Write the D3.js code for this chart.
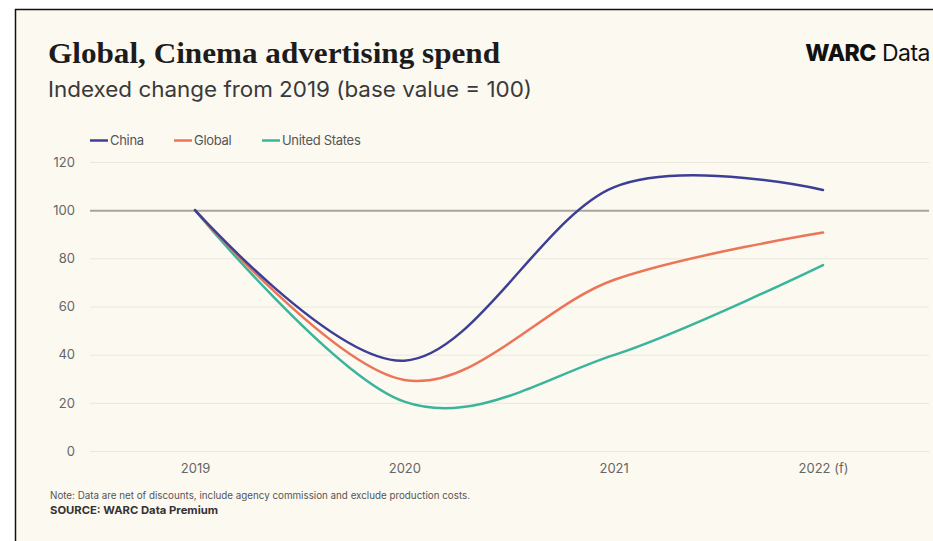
<!DOCTYPE html>
<html>
<head>
<meta charset="utf-8">
<script src="https://cdn.jsdelivr.net/npm/d3@7/dist/d3.min.js"></script>
<style>
  html, body { margin: 0; padding: 0; background: #ffffff; }
  svg { display: block; }
</style>
</head>
<body>
<svg id="chart" width="933" height="541"></svg>
<script>
// Index values, 2019 = 100
const years = ["2019", "2020", "2021", "2022 (f)"];
const china = [100, 37.5, 109.5, 108.4];
const global = [100, 29.5, 71, 90.7];
const unitedStates = [100, 20.5, 39.8, 77.2];
const yTicks = [0, 20, 40, 60, 80, 100, 120];

const seriesNames = ["China", "Global", "United States"];
const seriesColors = ["#3d3f96", "#ec7558", "#3ab59c"];
const seriesValues = [china, global, unitedStates];

const svg = d3.select("#chart");
const W = 933, H = 541;
const sans = "Inter, 'Noto Sans', sans-serif";

// page frame
svg.append("rect").attr("x", 15).attr("y", 9).attr("width", W - 15).attr("height", H - 9)
  .attr("fill", "#fcf9f1");
svg.append("line").attr("x1", 15).attr("x2", W).attr("y1", 9.5).attr("y2", 9.5)
  .attr("stroke", "#111").attr("stroke-width", 1.5);
svg.append("line").attr("x1", 15.5).attr("x2", 15.5).attr("y1", 9).attr("y2", H)
  .attr("stroke", "#111").attr("stroke-width", 1.5);

// headings
svg.append("text").attr("x", 48).attr("y", 63)
  .attr("font-family", "'Liberation Serif', 'Times New Roman', serif")
  .attr("font-weight", 700).attr("font-size", 30).attr("fill", "#1c1c1c")
  .attr("textLength", 452).attr("lengthAdjust", "spacingAndGlyphs")
  .text("Global, Cinema advertising spend");
svg.append("text").attr("x", 48).attr("y", 97)
  .attr("font-family", sans)
  .attr("font-weight", 400).attr("font-size", 21.5).attr("fill", "#3a3a3a")
  .attr("textLength", 484).attr("lengthAdjust", "spacingAndGlyphs")
  .text("Indexed change from 2019 (base value = 100)");

const brand = svg.append("text").attr("x", 930).attr("y", 61).attr("text-anchor", "end")
  .attr("font-family", sans).attr("font-size", 23).attr("fill", "#111")
  .attr("letter-spacing", -0.5);
brand.append("tspan").attr("font-weight", 800).text("WARC");
brand.append("tspan").attr("font-weight", 400).text(" Data");

// scales
const x = d3.scalePoint().domain(years).range([195, 823]);
const y = d3.scaleLinear().domain([0, 120]).range([451, 162]);

// y axis with full-width gridlines
const gridRight = 929, gridLeft = 90;
const yAxis = svg.append("g").attr("transform", `translate(${gridRight},0)`)
  .call(d3.axisLeft(y).tickValues(yTicks).tickSize(gridRight - gridLeft).tickPadding(15));
yAxis.select(".domain").remove();
yAxis.selectAll(".tick line")
  .attr("stroke", d => d === 100 ? "#a9a59d" : "#ebe7de")
  .attr("stroke-width", d => d === 100 ? 2 : 1);
yAxis.selectAll(".tick text")
  .attr("font-family", sans).attr("font-size", 13).attr("fill", "#666");

// x axis labels
const xAxis = svg.append("g").attr("transform", `translate(0,${y(0)})`)
  .call(d3.axisBottom(x).tickSize(0).tickPadding(13));
xAxis.select(".domain").remove();
xAxis.selectAll(".tick text")
  .attr("font-family", sans).attr("font-size", 13).attr("fill", "#666");

// series lines
const line = d3.line()
  .x((d, i) => x(years[i]))
  .y(d => y(d))
  .curve(d3.curveCardinal.tension(0));

// draw United States first so China sits on top
[2, 1, 0].forEach(k => {
  svg.append("path").datum(seriesValues[k])
    .attr("d", line)
    .attr("fill", "none")
    .attr("stroke", seriesColors[k])
    .attr("stroke-width", 2.5)
    .attr("stroke-linecap", "round");
});

// legend
const legendX = [90, 174, 262];
const legend = svg.append("g");
seriesNames.forEach((name, i) => {
  const g = legend.append("g").attr("transform", `translate(${legendX[i]},140.5)`);
  g.append("line").attr("x1", 0).attr("x2", 18).attr("y1", 0).attr("y2", 0)
    .attr("stroke", seriesColors[i]).attr("stroke-width", 2.5);
  g.append("text").attr("x", 20).attr("y", 4.5)
    .attr("font-family", sans).attr("font-size", 13)
    .attr("letter-spacing", -0.3).attr("fill", "#555").text(name);
});

// footnotes
svg.append("text").attr("x", 50).attr("y", 499)
  .attr("font-family", sans).attr("font-size", 10)
  .attr("fill", "#555")
  .attr("textLength", 420).attr("lengthAdjust", "spacingAndGlyphs")
  .text("Note: Data are net of discounts, include agency commission and exclude production costs.");
svg.append("text").attr("x", 50).attr("y", 514)
  .attr("font-family", sans).attr("font-size", 11)
  .attr("font-weight", 700).attr("fill", "#333")
  .attr("textLength", 168).attr("lengthAdjust", "spacingAndGlyphs")
  .text("SOURCE: WARC Data Premium");
</script>
</body>
</html>
